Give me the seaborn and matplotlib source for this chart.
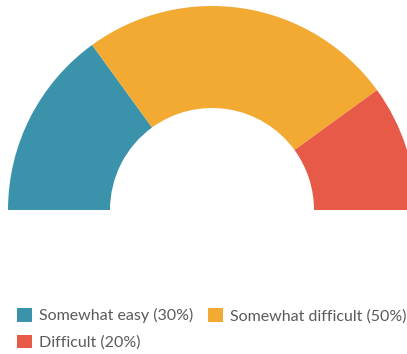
import matplotlib
matplotlib.use("Agg")
import matplotlib.pyplot as plt
from matplotlib.patches import Patch
import seaborn as sns

categories = ["Somewhat easy", "Somewhat difficult", "Difficult"]
shares = [30, 50, 20]
colors = ["#3a93aa", "#f2aa33", "#e85a48"]

sns.set_theme(style="white")
plt.rcParams["font.family"] = ["Lato", "DejaVu Sans"]

fig = plt.figure(figsize=(4.07, 3.54), dpi=100)
ax = fig.add_axes([0, 0, 1, 1])

# half donut: the visible shares fill the top half, a blank wedge fills the bottom
wedges, _ = ax.pie(
    shares + [sum(shares)],
    colors=colors + ["none"],
    startangle=180,
    counterclock=False,
    radius=1.0,
    wedgeprops=dict(width=0.5, linewidth=0),
)

R = 204.0
ax.set_xlim(-212 / R, (407 - 212) / R)
ax.set_ylim((210 - 354) / R, 210 / R)
ax.set_aspect("equal", adjustable="box")
ax.axis("off")

labels = [f"{c} ({v}%)" for c, v in zip(categories, shares)]
handles = [Patch(facecolor=col, edgecolor="none") for col in colors]
order = [0, 2, 1]
fig.legend(
    [handles[i] for i in order],
    [labels[i] for i in order],
    ncol=2,
    loc="upper left",
    bbox_to_anchor=(17 / 407, 1 - 308 / 354),
    frameon=False,
    fontsize=11.5,
    handlelength=0.95,
    handleheight=0.95,
    handletextpad=0.45,
    columnspacing=0.9,
    labelspacing=0.7,
    borderpad=0,
    borderaxespad=0,
    labelcolor="#5a5a5a",
)

fig.savefig("out.png", dpi=100, facecolor="white")
